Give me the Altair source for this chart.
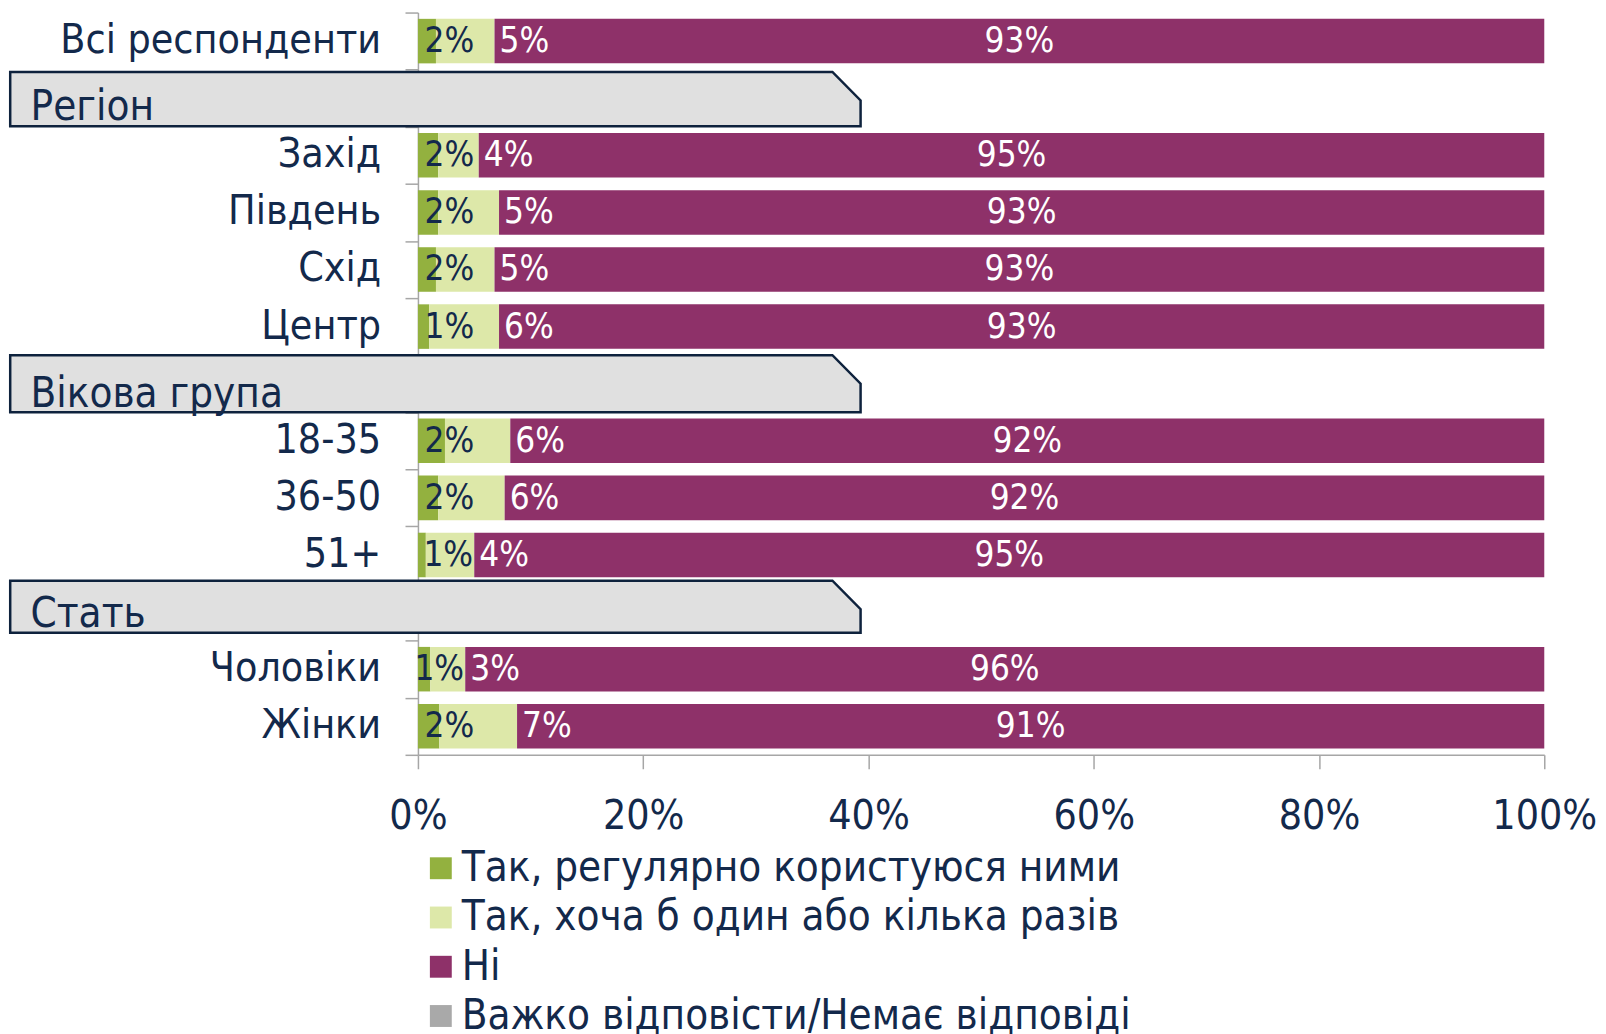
import altair as alt
import pandas as pd

FONT = "DejaVu Sans Condensed"
NAVY = "#13294b"
GRAY = "#a6a6a6"

# ---- data -------------------------------------------------------------
rows = ["Всі респонденти", "Регіон", "Захід", "Південь", "Схід", "Центр",
        "Вікова група", "18-35", "36-50", "51+", "Стать", "Чоловіки", "Жінки"]
categories = ["Всі респонденти", "Захід", "Південь", "Схід", "Центр",
              "18-35", "36-50", "51+", "Чоловіки", "Жінки"]
regular = [1.6, 1.8, 1.8, 1.6, 1.0, 2.4, 1.8, 0.7, 1.1, 1.9]
once    = [5.2, 3.6, 5.4, 5.2, 6.2, 5.8, 5.9, 4.3, 3.1, 6.9]
no_     = [93.2, 94.6, 92.8, 93.2, 92.8, 91.8, 92.3, 95.0, 95.8, 91.2]
hard    = [0.0, 0.0, 0.0, 0.0, 0.0, 0.0, 0.0, 0.0, 0.0, 0.0]

answers = ["Так, регулярно користуюся ними",
           "Так, хоча б один або кілька разів",
           "Ні",
           "Важко відповісти/Немає відповіді"]
colors = ["#93b13f", "#dde8a9", "#8e3169", "#a9a9a9"]

x_ticks = [0, 20, 40, 60, 80, 100]

headers = ["Регіон", "Вікова група", "Стать"]
header_top = [1.04, 6.0, 9.95]       # in row units
header_bottom = [1.99, 7.0, 10.86]
box_left, box_corner, box_right = -36.2, 36.8, 39.3   # in % units
corner_drop = 0.5
text_left = -34.4
green_label_end = 5.0                 # % position where the first label ends

# ---- tables -----------------------------------------------------------
recs = []
for i, c in enumerate(categories):
    for k, vals in enumerate([regular, once, no_, hard]):
        recs.append({"row": c, "ri": rows.index(c), "answer": answers[k],
                     "k": k, "value": vals[i]})
df = pd.DataFrame(recs)

cdf = pd.DataFrame({"row": categories, "ri": [rows.index(c) for c in categories]})

hrecs = []
for h, t, b in zip(headers, header_top, header_bottom):
    hrecs.append({"header": h, "hx": box_left, "ytop": t, "ybot": b})
    hrecs.append({"header": h, "hx": box_corner, "ytop": t, "ybot": b})
    hrecs.append({"header": h, "hx": box_right, "ytop": t + corner_drop, "ybot": b})
hdf = pd.DataFrame(hrecs)
tdf = pd.DataFrame({"header": headers, "tx": [text_left] * 3,
                    "ty": [b - 0.1 for b in header_bottom]})

# ---- scales / axes ----------------------------------------------------
xsc = alt.Scale(domain=[0, 100], nice=False, zero=False)
ysc = alt.Scale(domain=[0, len(rows)], reverse=True, nice=False, zero=False)

xaxis = alt.Axis(values=x_ticks, labelExpr="datum.value + '%'",
                 tickSize=14, tickColor=GRAY, tickWidth=1.5,
                 domainColor=GRAY, domainWidth=1.5,
                 labelFontSize=41, labelColor=NAVY, labelFont=FONT,
                 labelPadding=28, grid=False, labelFlush=False, title=None)
yaxis = alt.Axis(values=list(range(len(rows) + 1)), labels=False,
                 tickSize=13, tickColor=GRAY, tickWidth=1.5,
                 domainColor=GRAY, domainWidth=1.5, grid=False, title=None)

base = alt.Chart(df).transform_stack(
    stack="value", groupby=["row"], as_=["x0", "x1"],
    sort=[alt.SortField("k", order="ascending")]
).transform_calculate(
    yt="datum.ri + 0.11", yb="datum.ri + 0.89", yc="datum.ri + 0.5",
    lbl="format(datum.value, '.0f') + '%'",
    mid="(datum.x0 + datum.x1) / 2",
    ps0="datum.k == 2 ? datum.x0 : 0",
).transform_joinaggregate(ps="max(ps0)", groupby=["row"])

bars = base.mark_bar().encode(
    y=alt.Y("yt:Q", scale=ysc, axis=yaxis),
    y2="yb:Q",
    x=alt.X("x0:Q", scale=xsc, axis=xaxis),
    x2="x1:Q",
    color=alt.Color("answer:N", scale=alt.Scale(domain=answers, range=colors),
                    legend=alt.Legend(orient="none", legendX=2, legendY=839,
                                      direction="vertical", title=None,
                                      symbolType="square", symbolSize=484,
                                      symbolStrokeWidth=0, labelFontSize=42,
                                      labelColor=NAVY, labelFont=FONT,
                                      rowPadding=7.5, labelOffset=0, padding=0,
                                      labelLimit=0)),
)

lab_green = base.transform_filter("datum.k == 0").transform_calculate(
    gx=f"min({green_label_end}, datum.ps - 0.1)"
).mark_text(
    align="right", baseline="middle", fontSize=35, color=NAVY, font=FONT
).encode(y=alt.Y("yc:Q", scale=ysc, axis=yaxis),
         x=alt.X("gx:Q", scale=xsc, axis=xaxis), text="lbl:N")

lab_light = base.transform_filter("datum.k == 1").mark_text(
    align="left", baseline="middle", dx=5, fontSize=35, color="white", font=FONT
).encode(y=alt.Y("yc:Q", scale=ysc, axis=yaxis),
         x=alt.X("x1:Q", scale=xsc, axis=xaxis), text="lbl:N")

lab_no = base.transform_filter("datum.k == 2").mark_text(
    align="center", baseline="middle", fontSize=35, color="white", font=FONT
).encode(y=alt.Y("yc:Q", scale=ysc, axis=yaxis),
         x=alt.X("mid:Q", scale=xsc, axis=xaxis), text="lbl:N")

cat_labels = alt.Chart(cdf).transform_calculate(
    yc="datum.ri + 0.5", x0="0"
).mark_text(align="right", baseline="middle", dx=-37, fontSize=41,
            color=NAVY, font=FONT).encode(
    y=alt.Y("yc:Q", scale=ysc, axis=yaxis),
    x=alt.X("x0:Q", scale=xsc, axis=xaxis),
    text="row:N",
)

hdr_area = alt.Chart(hdf).mark_area(
    orient="vertical", interpolate="linear", fill="#e0e0e0", opacity=1,
    stroke="#0e223d", strokeWidth=2.5
).encode(
    x=alt.X("hx:Q", scale=xsc, axis=xaxis),
    y=alt.Y("ytop:Q", scale=ysc, axis=yaxis),
    y2="ybot:Q",
    detail="header:N",
)

hdr_text = alt.Chart(tdf).mark_text(
    align="left", baseline="alphabetic", fontSize=42, color=NAVY, font=FONT
).encode(
    x=alt.X("tx:Q", scale=xsc, axis=xaxis),
    y=alt.Y("ty:Q", scale=ysc, axis=yaxis),
    text="header:N",
)

chart = alt.layer(bars, lab_green, lab_light, lab_no, cat_labels,
                  hdr_area, hdr_text).properties(
    width=1132, height=746,
    autosize=alt.AutoSizeParams(type="none"),
    padding={"left": 412, "top": 2, "right": 54, "bottom": 278},
).configure(font=FONT).configure_view(stroke=None)

chart.save("out.html", embed_options={"renderer": "svg", "actions": False})
